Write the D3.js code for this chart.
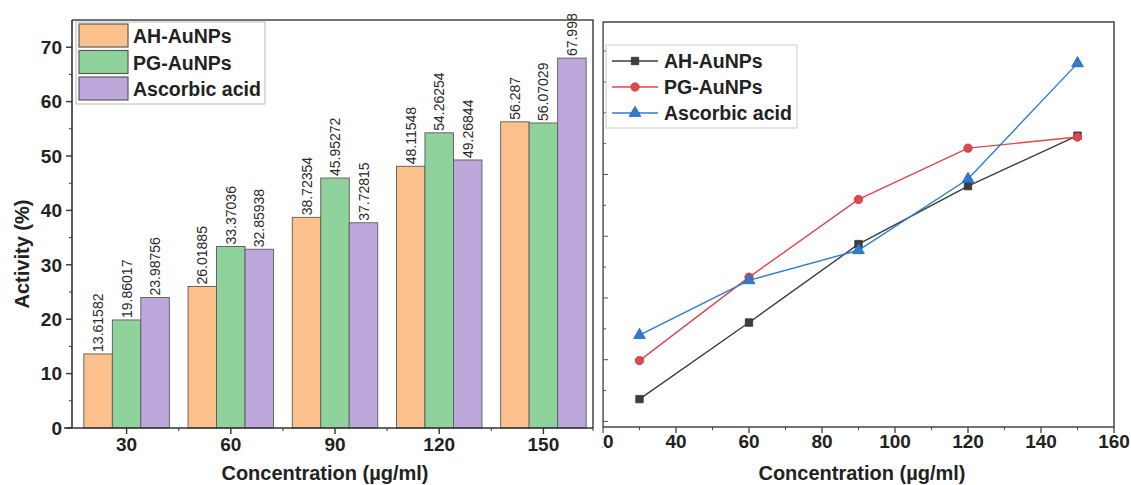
<!DOCTYPE html>
<html>
<head>
<meta charset="utf-8">
<script src="https://cdn.jsdelivr.net/npm/d3@7"></script>
<style>
  body { margin: 0; background: #fff; }
  svg { display: block; font-family: "Liberation Sans", Arial, sans-serif; }
  .tick-label { font-size: 19px; font-weight: bold; fill: #222; }
  .axis-title { font-size: 20px; font-weight: bold; fill: #222; }
  .legend-text { font-size: 19.5px; font-weight: bold; fill: #222; }
  .bar-label { font-size: 14px; fill: #2a2a2a; }
</style>
</head>
<body>
<div id="chart"></div>
<script>
// data
const concentrations = [30, 60, 90, 120, 150];
const seriesNames = ['AH-AuNPs', 'PG-AuNPs', 'Ascorbic acid'];
const ahValues = [13.61582, 26.01885, 38.72354, 48.11548, 56.287];
const pgValues = [19.86017, 33.37036, 45.95272, 54.26254, 56.07029];
const aaValues = [23.98756, 32.85938, 37.72815, 49.26844, 67.998];
const leftYTicks = [0, 10, 20, 30, 40, 50, 60, 70];
const rightXTicks = [20, 40, 60, 80, 100, 120, 140, 160];

const barColors = ['#fcc08d', '#8fd29b', '#bca8da'];
const lineColors = ['#3d3d3d', '#e2474c', '#2f7bd0'];

const series = seriesNames.map((name, i) => ({
  name: name,
  values: [ahValues, pgValues, aaValues][i]
}));

const svg = d3.select('#chart').append('svg')
  .attr('width', 1131)
  .attr('height', 485);

// ---------------- left panel: grouped bars ----------------
const L = {left: 72, right: 593, top: 20, bottom: 428};

const x0 = d3.scaleBand()
  .domain(concentrations)
  .range([L.left + 2.5, L.right + 2.5]);

const x1 = d3.scaleBand()
  .domain(seriesNames)
  .range([0, 85.5]);

const yL = d3.scaleLinear()
  .domain([0, 75])
  .range([L.bottom, L.top]);

const left = svg.append('g');

const groups = left.selectAll('.group')
  .data(concentrations)
  .join('g')
  .attr('class', 'group')
  .attr('transform', d => `translate(${x0(d) + (x0.bandwidth() - 85.5) / 2},0)`);

groups.selectAll('rect')
  .data((d, i) => series.map((s, j) => ({name: s.name, value: s.values[i], idx: j})))
  .join('rect')
  .attr('x', d => x1(d.name))
  .attr('y', d => yL(d.value))
  .attr('width', x1.bandwidth())
  .attr('height', d => yL(0) - yL(d.value))
  .attr('fill', d => barColors[d.idx])
  .attr('stroke', '#5a5a5a')
  .attr('stroke-width', 0.9);

groups.selectAll('.bar-label')
  .data((d, i) => series.map((s, j) => ({name: s.name, value: s.values[i]})))
  .join('text')
  .attr('class', 'bar-label')
  .attr('transform', d => `translate(${x1(d.name) + x1.bandwidth() / 2 + 5},${yL(d.value) - 2}) rotate(-90)`)
  .text(d => d.value);

// frame
left.append('path')
  .attr('d', `M${L.left},${L.top}H${L.right}V${L.bottom}`)
  .attr('fill', 'none')
  .attr('stroke', '#444')
  .attr('stroke-width', 1.5);

// y axis
const yAxisL = left.append('g').attr('transform', `translate(${L.left},0)`);
yAxisL.append('line')
  .attr('y1', L.top).attr('y2', L.bottom)
  .attr('stroke', '#333').attr('stroke-width', 1.6);
yAxisL.selectAll('.minor')
  .data(d3.range(5, 75, 10))
  .join('line')
  .attr('x1', 0).attr('x2', -3)
  .attr('y1', d => yL(d)).attr('y2', d => yL(d))
  .attr('stroke', '#333');
yAxisL.selectAll('.major')
  .data(leftYTicks)
  .join('g')
  .each(function(d) {
    const g = d3.select(this);
    g.append('line')
      .attr('x1', 0).attr('x2', -6)
      .attr('y1', yL(d)).attr('y2', yL(d))
      .attr('stroke', '#333').attr('stroke-width', 1.4);
    g.append('text')
      .attr('class', 'tick-label')
      .attr('x', -10).attr('y', yL(d))
      .attr('dy', '0.36em')
      .attr('text-anchor', 'end')
      .text(d);
  });

// x axis
const xAxisL = left.append('g').attr('transform', `translate(0,${L.bottom})`);
xAxisL.append('line')
  .attr('x1', L.left - 8).attr('x2', L.right)
  .attr('stroke', '#333').attr('stroke-width', 1.6);
xAxisL.selectAll('.minor')
  .data(concentrations.slice(1).map(d => x0(d)).concat([L.right]))
  .join('line')
  .attr('x1', d => d).attr('x2', d => d)
  .attr('y1', 0).attr('y2', 3)
  .attr('stroke', '#333');
xAxisL.selectAll('.major')
  .data(concentrations)
  .join('g')
  .each(function(d) {
    const cx = x0(d) + x0.bandwidth() / 2;
    const g = d3.select(this);
    g.append('line')
      .attr('x1', cx).attr('x2', cx)
      .attr('y1', 0).attr('y2', 6)
      .attr('stroke', '#333').attr('stroke-width', 1.4);
    g.append('text')
      .attr('class', 'tick-label')
      .attr('x', cx).attr('y', 23)
      .attr('text-anchor', 'middle')
      .text(d);
  });

left.append('text')
  .attr('class', 'axis-title')
  .attr('x', 325).attr('y', 480)
  .attr('text-anchor', 'middle')
  .text('Concentration (\u00b5g/ml)');

left.append('text')
  .attr('class', 'axis-title')
  .attr('transform', 'translate(29,254) rotate(-90)')
  .attr('text-anchor', 'middle')
  .text('Activity (%)');

// legend
const legL = left.append('g').attr('transform', 'translate(76,22)');
legL.append('rect')
  .attr('width', 189).attr('height', 82)
  .attr('fill', '#fff').attr('stroke', '#bbb');
seriesNames.forEach((name, i) => {
  legL.append('rect')
    .attr('x', 3).attr('y', 2 + i * 26.5)
    .attr('width', 49).attr('height', 23)
    .attr('fill', barColors[i])
    .attr('stroke', '#5a5a5a').attr('stroke-width', 1.2);
  legL.append('text')
    .attr('class', 'legend-text')
    .attr('x', 57).attr('y', 14 + i * 26.5)
    .attr('dy', '0.36em')
    .text(name);
});

// ---------------- right panel: lines ----------------
const R = {left: 603, right: 1114, top: 22, bottom: 427};

// the panel is cropped on its left edge, so the "2" of the first tick is hidden
svg.append('defs').append('clipPath')
  .attr('id', 'right-clip')
  .append('rect')
  .attr('x', 602.2).attr('y', 0)
  .attr('width', 529).attr('height', 485);

const right = svg.append('g').attr('clip-path', 'url(#right-clip)');

const xR = d3.scaleLinear()
  .domain([20, 160])
  .range([R.left, R.right]);

const yR = d3.scaleLinear()
  .domain([9.1, 74.7])
  .range([R.bottom, R.top]);

right.append('rect')
  .attr('x', R.left).attr('y', R.top)
  .attr('width', R.right - R.left).attr('height', R.bottom - R.top)
  .attr('fill', 'none')
  .attr('stroke', '#444')
  .attr('stroke-width', 1.5);

// y ticks (no labels)
right.selectAll('.ytick')
  .data(d3.range(10, 75, 5))
  .join('line')
  .attr('x1', R.left).attr('x2', d => R.left + (d % 10 === 0 ? 5 : 3))
  .attr('y1', d => yR(d)).attr('y2', d => yR(d))
  .attr('stroke', '#555');

// x ticks
right.selectAll('.xminor')
  .data(d3.range(30, 160, 20))
  .join('line')
  .attr('x1', d => xR(d)).attr('x2', d => xR(d))
  .attr('y1', R.bottom).attr('y2', R.bottom + 3)
  .attr('stroke', '#444');
right.selectAll('.xmajor')
  .data(rightXTicks)
  .join('line')
  .attr('x1', d => xR(d)).attr('x2', d => xR(d))
  .attr('y1', R.bottom).attr('y2', R.bottom + 6)
  .attr('stroke', '#444').attr('stroke-width', 1.3);
right.selectAll('.xlabel')
  .data(rightXTicks)
  .join('text')
  .attr('class', 'tick-label')
  .attr('x', d => xR(d)).attr('y', R.bottom + 21)
  .attr('text-anchor', 'middle')
  .text(d => d);

right.append('text')
  .attr('class', 'axis-title')
  .attr('x', 862).attr('y', 480)
  .attr('text-anchor', 'middle')
  .text('Concentration (\u00b5g/ml)');

const line = d3.line()
  .x((d, i) => xR(concentrations[i]))
  .y(d => yR(d));

const symbols = [d3.symbolSquare, d3.symbolCircle, d3.symbolTriangle];

function drawMarker(sel, i, x, y) {
  sel.append('path')
    .attr('d', d3.symbol().type(symbols[i]).size(i === 2 ? 60 : 55)())
    .attr('transform', `translate(${x},${y})`)
    .attr('fill', lineColors[i])
    .attr('stroke', d3.color(lineColors[i]).darker(0.5))
    .attr('stroke-width', 0.8);
}

series.forEach((s, i) => {
  right.append('path')
    .datum(s.values)
    .attr('d', line)
    .attr('fill', 'none')
    .attr('stroke', lineColors[i])
    .attr('stroke-width', 1.4);
  s.values.forEach((v, j) => drawMarker(right, i, xR(concentrations[j]), yR(v)));
});

// legend
const legR = right.append('g').attr('transform', 'translate(606,45)');
legR.append('rect')
  .attr('width', 191).attr('height', 83)
  .attr('fill', 'rgba(255,255,255,0.9)').attr('stroke', '#ccc');
seriesNames.forEach((name, i) => {
  const cy = 16 + i * 26;
  legR.append('line')
    .attr('x1', 6).attr('x2', 52)
    .attr('y1', cy).attr('y2', cy)
    .attr('stroke', lineColors[i]).attr('stroke-width', 1.4);
  drawMarker(legR, i, 29, cy);
  legR.append('text')
    .attr('class', 'legend-text')
    .attr('x', 58).attr('y', cy)
    .attr('dy', '0.36em')
    .text(name);
});
</script>
</body>
</html>
